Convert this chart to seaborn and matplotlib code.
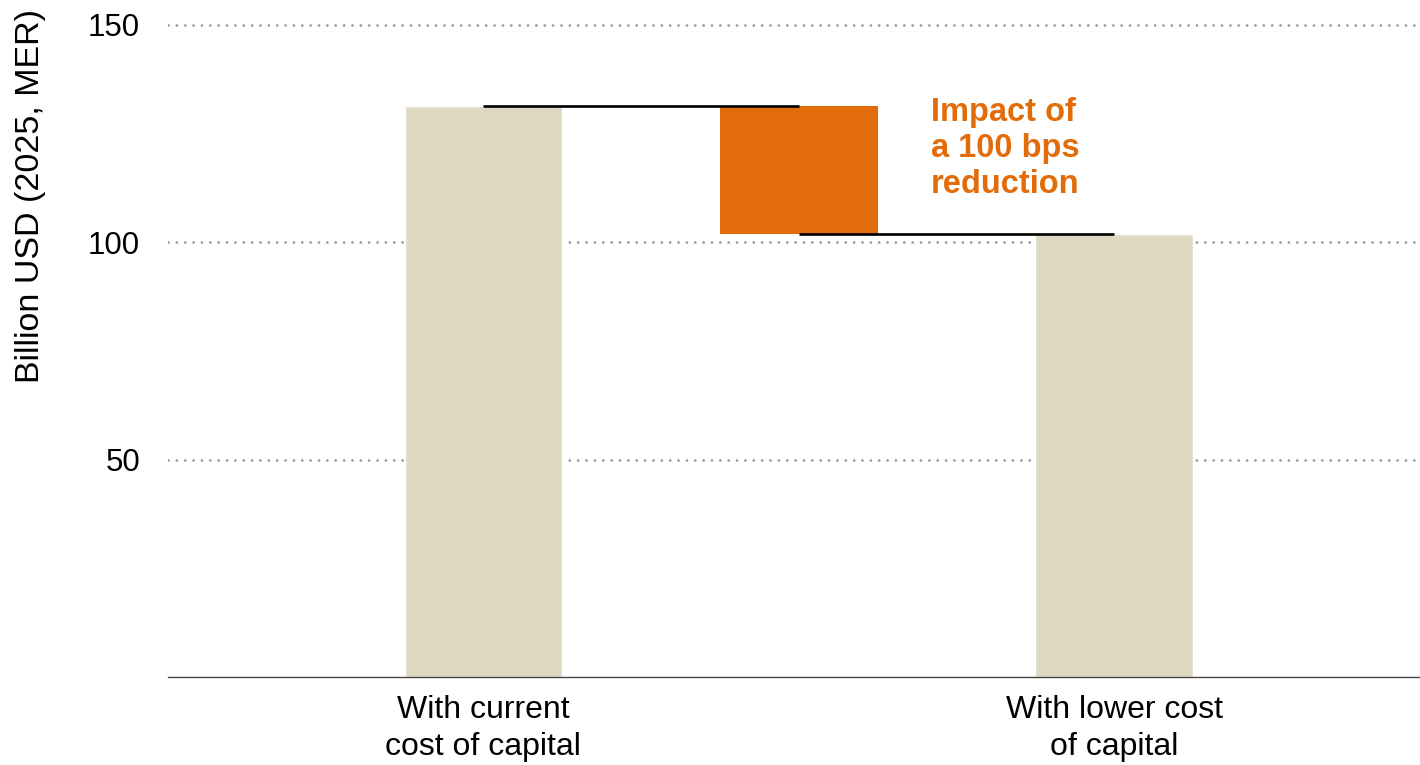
import matplotlib
matplotlib.use("Agg")
import matplotlib.pyplot as plt
import seaborn as sns
import pandas as pd

# chart data
steps = ["current", "impact", "lower"]
tick_labels = ["With current\ncost of capital", "", "With lower cost\nof capital"]
current_cost = 131.3
lower_cost = 101.9
y_ticks = [50, 100, 150]
note = "Impact of\na 100 bps\nreduction"

beige = "#DED9C3"
orange = "#E36C0A"

sns.set_theme(style="white")
plt.rcParams["font.family"] = ["Liberation Sans", "DejaVu Sans"]

fig = plt.figure(figsize=(14.2, 7.65), dpi=100)
ax = fig.add_axes([168 / 1420, 1 - 677 / 765, 1 - 168 / 1420, (677 - 20) / 765])

totals = pd.DataFrame({"step": steps, "value": [current_cost, 0, lower_cost]})
sns.barplot(data=totals, x="step", y="value", order=steps, color=beige,
            width=0.5, saturation=1, ax=ax, zorder=2)

# floating impact bar
ax.bar(1, current_cost - lower_cost, bottom=lower_cost, width=0.5,
       color=orange, linewidth=0, zorder=3)

# connector lines
ax.hlines(current_cost, 0, 1, color="black", linewidth=1.9, zorder=4)
ax.hlines(lower_cost, 1, 2, color="black", linewidth=1.9, zorder=4)

ax.set_xlim(-1.0, 2.97)
ax.set_ylim(0, 151.15)
ax.set_yticks(y_ticks)
ax.set_yticklabels([str(t) for t in y_ticks])
ax.set_xticks(range(len(steps)))
ax.set_xticklabels(tick_labels, linespacing=1.3)

ax.grid(axis="y", color="#9a9a9a", linestyle=(0, (0.01, 3.0)), linewidth=2.0,
        dash_capstyle="round", zorder=0)
ax.grid(axis="x", visible=False)
ax.set_axisbelow(True)

for side in ["top", "right", "left"]:
    ax.spines[side].set_visible(False)
ax.spines["bottom"].set_color("#444444")
ax.spines["bottom"].set_linewidth(1.0)

ax.tick_params(axis="y", length=0, pad=20, labelsize=22.5, labelcolor="black")
ax.tick_params(axis="x", length=0, pad=13, labelsize=23, labelcolor="black")
ax.set_xlabel("")
ax.set_ylabel("")

fig.text(31 / 1420, 1 - 196 / 765, "Billion USD (2025, MER)", rotation=90,
         ha="center", va="center", fontsize=24.5, color="black")

ax.text(1.42, current_cost + 2.2, note, ha="left", va="top", fontsize=23.5,
        fontweight="bold", color=orange, linespacing=1.22)

fig.savefig("out.png", dpi=100, facecolor="white")
